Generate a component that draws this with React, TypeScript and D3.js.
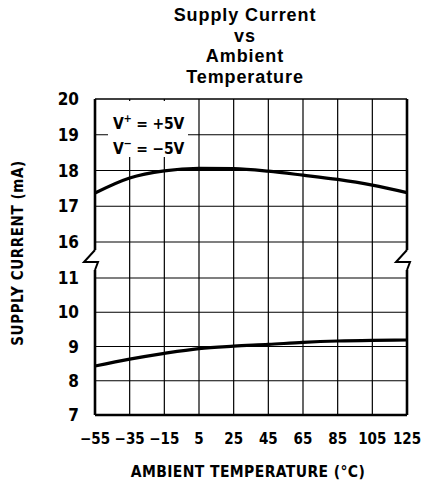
import * as d3 from "d3";

// readings taken off the datasheet plot (V+ = +5V, V- = -5V)
const temps = [-55, -35, -15, 5, 25, 45, 65, 85, 105, 125];
const upperCurrent = [17.37, 17.79, 17.99, 18.06, 18.05, 17.98, 17.87, 17.75, 17.59, 17.38];
const lowerCurrent = [8.43, 8.63, 8.8, 8.94, 9.01, 9.06, 9.12, 9.16, 9.18, 9.19];

const upperTicks = [20, 19, 18, 17, 16];
const lowerTicks = [11, 10, 9, 8, 7];
const titleLines = ["Supply Current", "vs", "Ambient", "Temperature"];

const W = 424;
const H = 486;
const left = 95;
const right = 407;
const top = 99;
const bottom = 415;

const tickFont = "'DejaVu Sans Condensed', 'DejaVu Sans', sans-serif";
const labelFont = "'Liberation Sans', Arial, sans-serif";

export default function App() {
  const x = d3.scaleLinear().domain([-55, 125]).range([left, right]);
  // broken axis: two separate linear pieces
  const yUp = d3.scaleLinear().domain([16, 20]).range([242, top]);
  const yLow = d3.scaleLinear().domain([7, 11]).range([bottom, 278]);

  const upperLine = d3
    .line<number>()
    .x((_, i) => x(temps[i]))
    .y((d) => yUp(d))
    .curve(d3.curveMonotoneX);
  const lowerLine = d3
    .line<number>()
    .x((_, i) => x(temps[i]))
    .y((d) => yLow(d))
    .curve(d3.curveMonotoneX);

  const breakY = 262;
  const zig = (ax: number) =>
    `M${ax},${breakY - 12} L${ax - 11},${breakY} L${ax + 3},${breakY} L${ax},${breakY + 8}`;

  return (
    <svg
      width={W}
      height={H}
      style={{ position: "absolute", left: 0, top: 0, background: "#fff" }}
    >
      {/* title */}
      {titleLines.map((t, i) => (
        <text
          key={t}
          x={245}
          y={21 + i * 20.5}
          textAnchor="middle"
          fontFamily={labelFont}
          fontWeight="bold"
          fontSize={18}
          letterSpacing={0.9}
        >
          {t}
        </text>
      ))}

      {/* vertical grid, runs straight through the break */}
      {temps.slice(1, -1).map((t) => (
        <line key={t} x1={x(t)} x2={x(t)} y1={top} y2={bottom} stroke="#000" strokeWidth={1.2} />
      ))}
      {/* horizontal grid */}
      {upperTicks.slice(1).map((v) => (
        <line key={"u" + v} x1={left} x2={right} y1={yUp(v)} y2={yUp(v)} stroke="#000" strokeWidth={1.2} />
      ))}
      {lowerTicks.slice(0, -1).map((v) => (
        <line key={"l" + v} x1={left} x2={right} y1={yLow(v)} y2={yLow(v)} stroke="#000" strokeWidth={1.2} />
      ))}
      <line x1={left} x2={right} y1={top} y2={top} stroke="#000" strokeWidth={1.6} />

      {/* white box behind supply voltage note */}
      <rect x={108} y={101} width={80} height={56} fill="#fff" />
      <text x={113} y={129} fontFamily={tickFont} fontWeight="bold" fontSize={15.5} letterSpacing={-0.2}>
        V<tspan dy={-7} fontSize={11}>+</tspan>
        <tspan dy={7}> = +5V</tspan>
      </text>
      <text x={113} y={154} fontFamily={tickFont} fontWeight="bold" fontSize={15.5} letterSpacing={-0.2}>
        V<tspan dy={-7} fontSize={11}>−</tspan>
        <tspan dy={7}> = −5V</tspan>
      </text>

      {/* axes with break marks */}
      <g stroke="#000" strokeWidth={2.6} fill="none" strokeLinejoin="miter">
        <path d={`M${left},${top} L${left},${breakY - 12}`} />
        <path d={zig(left)} strokeWidth={2} />
        <path d={`M${left},${breakY + 8} L${left},${bottom}`} />
        <path d={`M${right},${top} L${right},${breakY - 12}`} />
        <path d={zig(right)} strokeWidth={2} />
        <path d={`M${right},${breakY + 8} L${right},${bottom}`} />
        <path d={`M${left},${bottom} L${right},${bottom}`} />
      </g>

      {/* curves */}
      <path d={upperLine(upperCurrent) ?? ""} fill="none" stroke="#000" strokeWidth={3.2} />
      <path d={lowerLine(lowerCurrent) ?? ""} fill="none" stroke="#000" strokeWidth={3.2} />

      {/* y tick labels */}
      {upperTicks.map((v) => (
        <text key={"tu" + v} x={79} y={yUp(v) + 6} textAnchor="end" fontFamily={tickFont} fontWeight="bold" fontSize={17}>
          {v}
        </text>
      ))}
      {lowerTicks.map((v) => (
        <text key={"tl" + v} x={79} y={yLow(v) + 6} textAnchor="end" fontFamily={tickFont} fontWeight="bold" fontSize={17}>
          {v}
        </text>
      ))}

      {/* x tick labels */}
      {temps.map((t) => (
        <text key={"tx" + t} x={x(t)} y={444} textAnchor="middle" fontFamily={tickFont} fontWeight="bold" fontSize={15}>
          {t < 0 ? "−" + Math.abs(t) : t}
        </text>
      ))}

      {/* axis titles */}
      <text
        transform="translate(23,253) rotate(-90)"
        textAnchor="middle"
        fontFamily={tickFont}
        fontWeight="bold"
        fontSize={15}
        letterSpacing={0.6}
      >
        SUPPLY CURRENT (mA)
      </text>
      <text
        x={248}
        y={477}
        textAnchor="middle"
        fontFamily={tickFont}
        fontWeight="bold"
        fontSize={15.5}
        letterSpacing={0.4}
      >
        AMBIENT TEMPERATURE (°C)
      </text>
    </svg>
  );
}
